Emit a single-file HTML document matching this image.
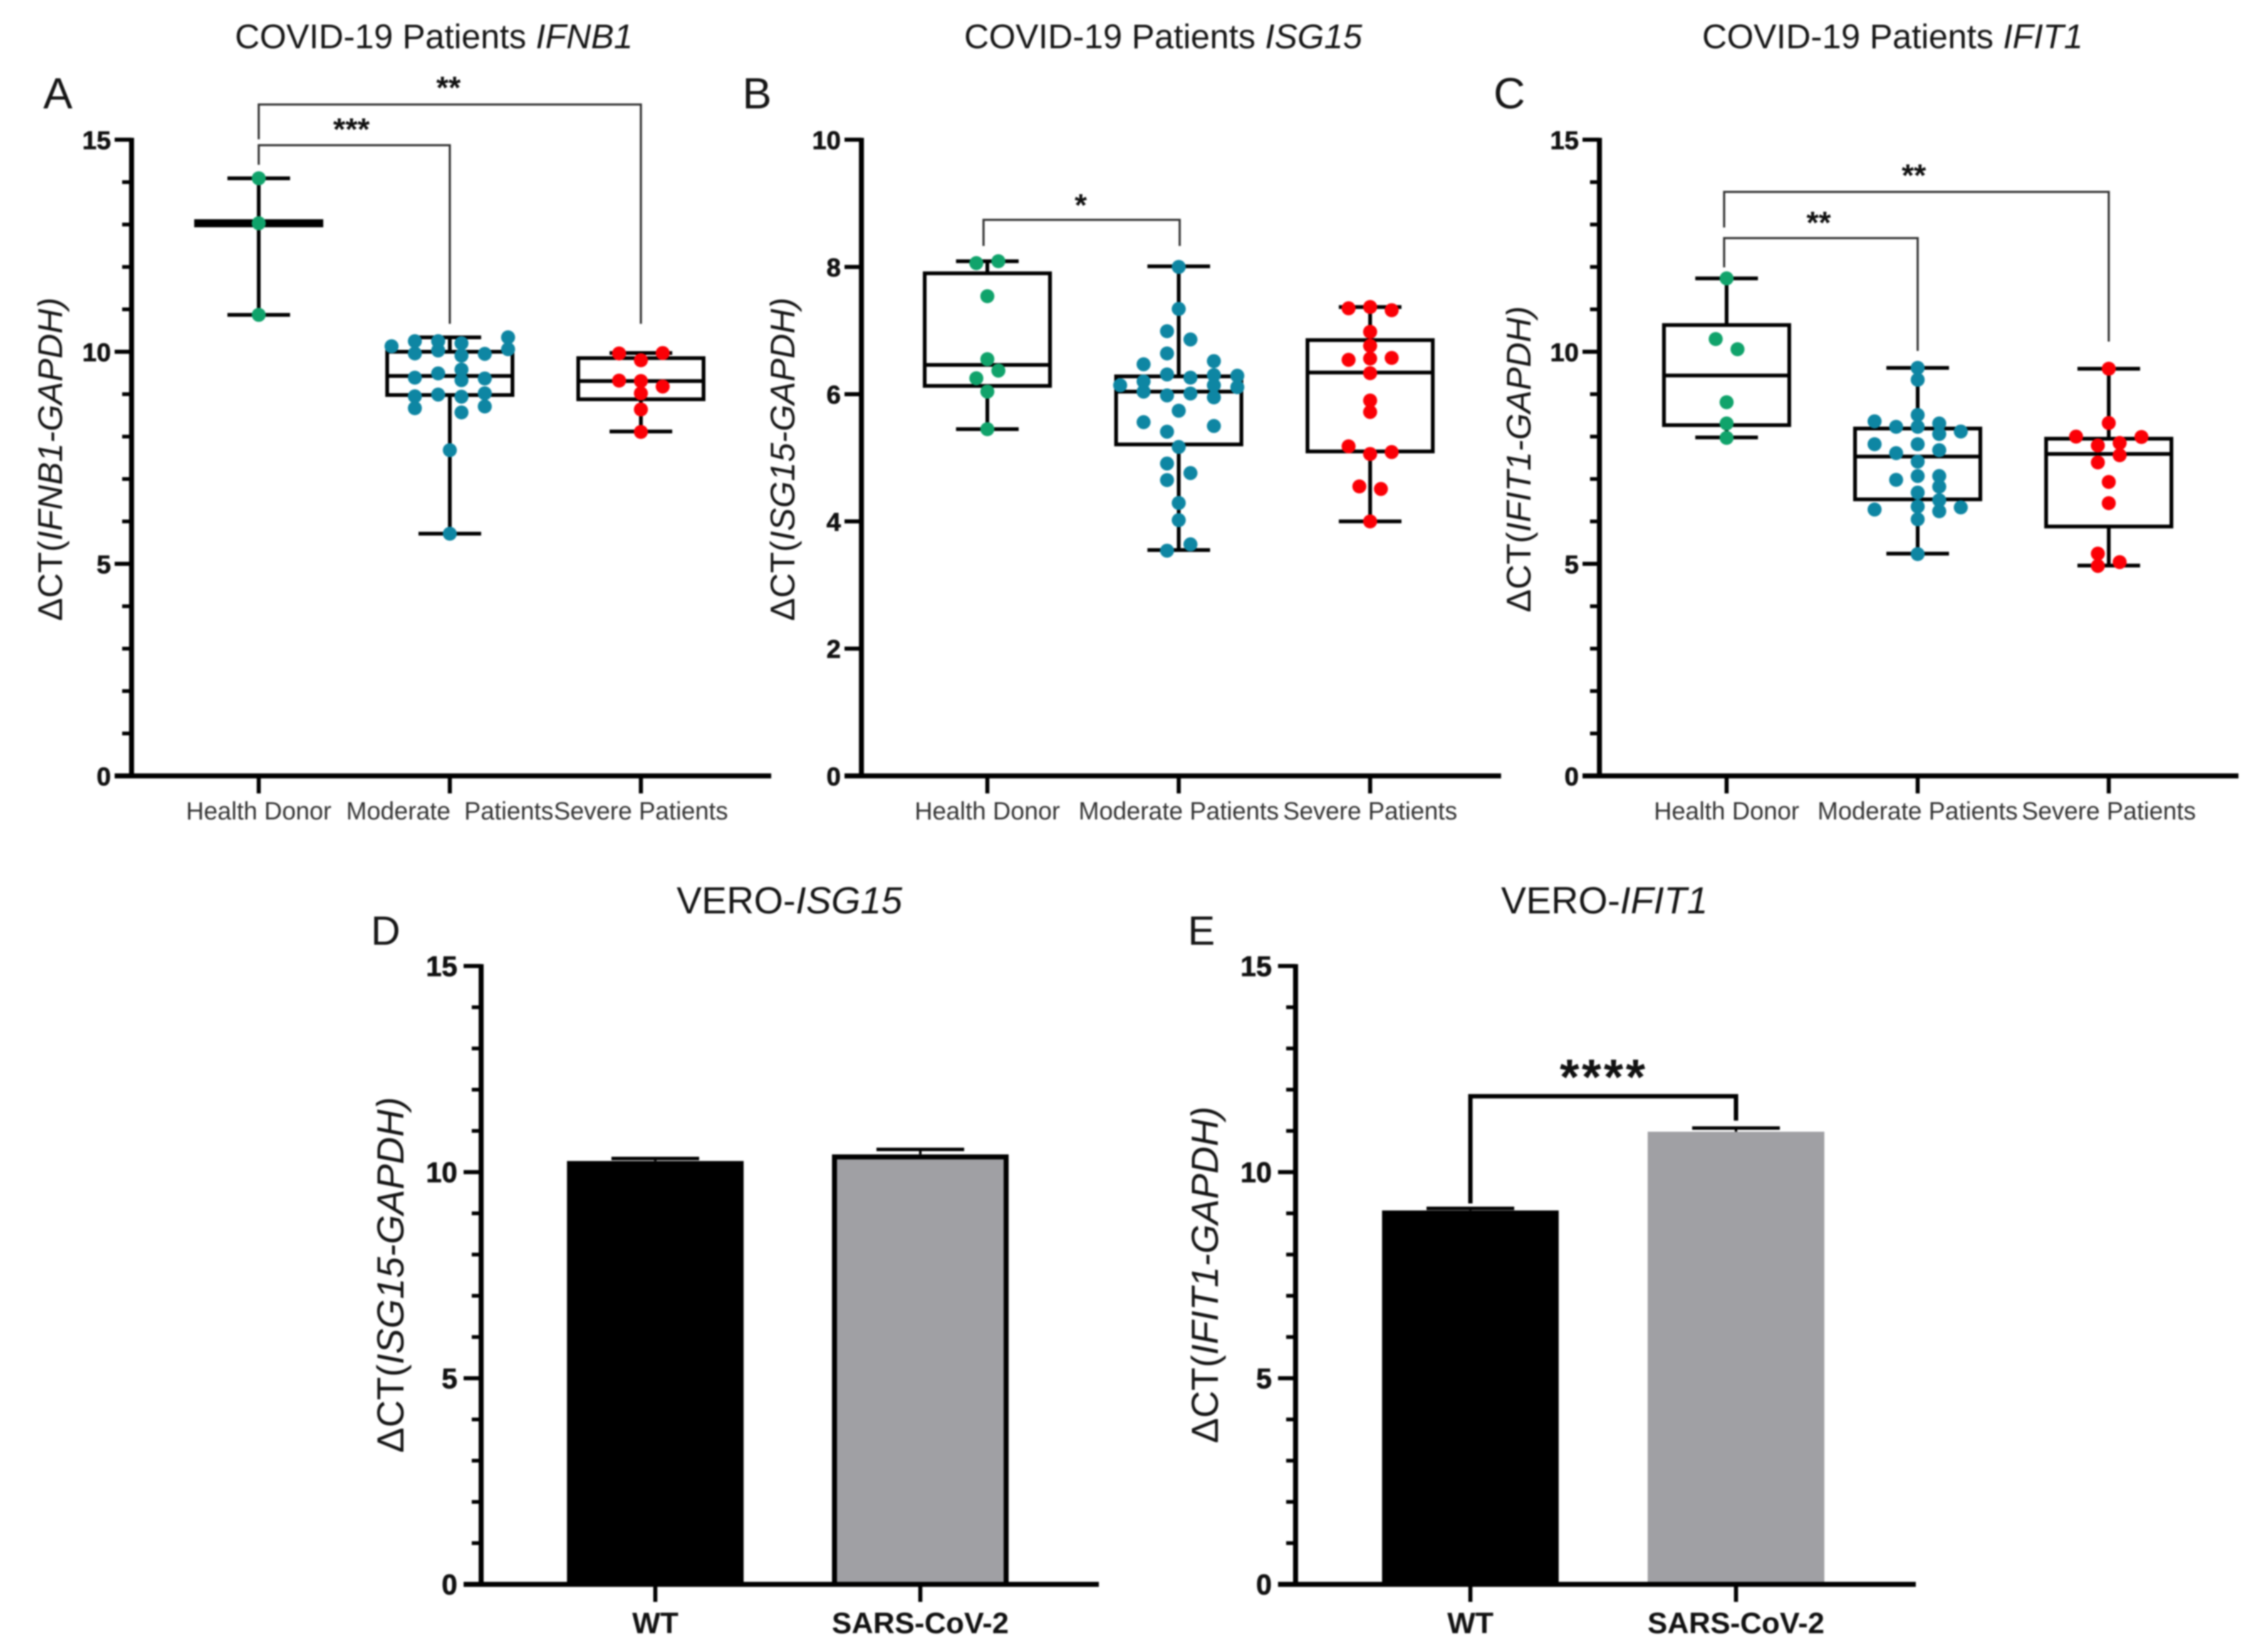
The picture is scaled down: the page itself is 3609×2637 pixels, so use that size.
<!DOCTYPE html>
<html lang="en">
<head>
<meta charset="utf-8">
<title>Interferon gene expression in COVID-19 patients and VERO cells</title>
<style>
html,body{margin:0;padding:0;background:#fff;}
svg{display:block;filter:blur(1.2px);font-family:"Liberation Sans",Arial,sans-serif;}
.title{font-size:54.7px;fill:#151515;}
.title-low{font-size:60px;fill:#151515;}
.letter{font-size:70px;fill:#151515;}
.ytitle{font-size:55px;fill:#151515;}
.ytitle-low{font-size:60.5px;fill:#151515;}
i,.it{font-style:italic;}
</style>
</head>
<body>
<svg id="figure" width="3609" height="2637" viewBox="0 0 3609 2637">
  <rect x="0" y="0" width="3609" height="2637" fill="#fff"/>
  <text class="title" x="375" y="77">COVID-19 Patients <tspan class="it">IFNB1</tspan></text>
  <text class="title" x="1539" y="77">COVID-19 Patients <tspan class="it">ISG15</tspan></text>
  <text class="title" x="2717" y="77">COVID-19 Patients <tspan class="it">IFIT1</tspan></text>
  <text class="title-low" x="1080" y="1458">VERO-<tspan class="it">ISG15</tspan></text>
  <text class="title-low" x="2396" y="1458">VERO-<tspan class="it">IFIT1</tspan></text>
  <text class="letter" x="69" y="173">A</text>
  <text class="letter" x="1185" y="173">B</text>
  <text class="letter" x="2384" y="173">C</text>
  <text class="letter" style="font-size:65px" x="592" y="1508">D</text>
  <text class="letter" style="font-size:65px" x="1896" y="1508">E</text>
  <text class="ytitle" text-anchor="middle" transform="translate(99 733) rotate(-90)">&#916;CT(<tspan class="it">IFNB1-GAPDH)</tspan></text>
  <text class="ytitle" text-anchor="middle" transform="translate(1268 733) rotate(-90)">&#916;CT(<tspan class="it">ISG15-GAPDH)</tspan></text>
  <text class="ytitle" text-anchor="middle" transform="translate(2443 733) rotate(-90)">&#916;CT(<tspan class="it">IFIT1-GAPDH)</tspan></text>
  <text class="ytitle-low" text-anchor="middle" transform="translate(644 2035) rotate(-90)">&#916;CT(<tspan class="it">ISG15-GAPDH)</tspan></text>
  <text class="ytitle-low" text-anchor="middle" transform="translate(1944 2035) rotate(-90)">&#916;CT(<tspan class="it">IFIT1-GAPDH)</tspan></text>
</svg>
<script>
/* ---------- Panel A data ---------- */
const panelACategories = ["Health Donor", "Moderate\u00A0\u00A0Patients", "Severe Patients"];
const panelAYTicks = [0, 5, 10, 15];
const panelAWhiskerLow = [10.87, 5.71, 8.12];
const panelAQ1 = [12.98, 8.98, 8.88];
const panelAMedian = [13.03, 9.43, 9.31];
const panelAQ3 = [13.08, 10.0, 9.85];
const panelAWhiskerHigh = [14.09, 10.34, 9.97];
const panelAHealthValues = [14.09, 13.03, 10.87];
const panelAHealthSwarm = [0, 0, 0];
const panelAModerateValues = [10.13, 10.25, 9.96, 9.39, 8.95, 8.67, 10.25, 10.03, 9.49, 8.99, 7.68, 5.71, 10.2, 9.91, 9.58, 9.33, 8.94, 8.57, 9.95, 9.37, 9.02, 8.71, 10.34, 10.06];
const panelAModerateSwarm = [-5, -3, -3, -3, -3, -3, -1, -1, -1, -1, 0, 0, 1, 1, 1, 1, 1, 1, 3, 3, 3, 3, 5, 5];
const panelASevereValues = [9.96, 9.97, 9.8, 9.32, 9.31, 9.18, 9.02, 8.64, 8.11];
const panelASevereSwarm = [-2, 2, 0, -2, 0, 2, 0, 0, 0];

/* ---------- Panel B data ---------- */
const panelBCategories = ["Health Donor", "Moderate Patients", "Severe Patients"];
const panelBYTicks = [0, 2, 4, 6, 8, 10];
const panelBWhiskerLow = [5.45, 3.55, 4.0];
const panelBQ1 = [6.13, 5.21, 5.1];
const panelBMedian = [6.46, 6.04, 6.34];
const panelBQ3 = [7.9, 6.28, 6.85];
const panelBWhiskerHigh = [8.09, 8.01, 7.37];
const panelBHealthValues = [8.06, 8.09, 7.54, 6.55, 6.37, 6.25, 6.04, 5.45];
const panelBHealthSwarm = [-1, 1, 0, 0, 1, -1, 0, 0];
const panelBModerateValues = [8.0, 7.34, 6.99, 6.86, 6.64, 6.47, 6.52, 6.31, 6.26, 6.3, 6.29, 6.14, 6.2, 6.14, 6.11, 6.04, 5.98, 6.01, 5.95, 5.74, 5.56, 5.5, 5.41, 5.17, 4.91, 4.76, 4.65, 4.29, 4.02, 3.64, 3.54];
const panelBModerateSwarm = [0, 0, -1, 1, -1, -3, 3, -1, 1, 3, 5, -5, -3, 3, 5, -3, -1, 1, 3, 0, -3, 3, -1, 0, -1, 1, -1, 0, 0, 1, -1];
const panelBSevereValues = [7.35, 7.37, 7.32, 6.98, 6.76, 6.54, 6.56, 6.57, 6.33, 5.9, 5.72, 5.18, 5.06, 5.09, 4.55, 4.51, 4.0];
const panelBSevereSwarm = [-2, 0, 2, 0, 0, -2, 0, 2, 0, 0, 0, -2, 0, 2, -1, 1, 0];

/* ---------- Panel C data ---------- */
const panelCCategories = ["Health Donor", "Moderate Patients", "Severe Patients"];
const panelCYTicks = [0, 5, 10, 15];
const panelCWhiskerLow = [7.98, 5.24, 4.96];
const panelCQ1 = [8.27, 6.52, 5.88];
const panelCMedian = [9.44, 7.53, 7.59];
const panelCQ3 = [10.63, 8.19, 7.95];
const panelCWhiskerHigh = [11.73, 9.62, 9.6];
const panelCHealthValues = [11.73, 10.3, 10.06, 8.81, 8.31, 7.97];
const panelCHealthSwarm = [0, -1, 1, 0, 0, 0];
const panelCModerateValues = [9.62, 9.34, 8.51, 8.36, 8.23, 8.23, 8.31, 8.06, 8.12, 7.82, 7.82, 7.68, 7.61, 7.41, 7.07, 7.07, 6.98, 6.82, 6.68, 6.5, 6.35, 6.28, 6.24, 6.33, 6.05, 5.23];
const panelCModerateSwarm = [0, 0, 0, -4, -2, 0, 2, 2, 4, -4, 0, 2, -2, 0, 0, 2, -2, 2, 0, 2, 0, -4, 2, 4, 0, 0];
const panelCSevereValues = [9.6, 8.32, 8.0, 7.99, 7.79, 7.85, 7.56, 7.39, 6.93, 6.43, 5.24, 5.04, 4.95];
const panelCSevereSwarm = [0, 0, -3, 3, -1, 1, 1, -1, 0, 0, -1, 1, -1];

/* ---------- Panel D data ---------- */
const panelDCategories = ["WT", "SARS-CoV-2"];
const panelDYTicks = [0, 5, 10, 15];
const panelDMeans = [10.27, 10.43];
const panelDErrors = [0.06, 0.12];

/* ---------- Panel E data ---------- */
const panelECategories = ["WT", "SARS-CoV-2"];
const panelEYTicks = [0, 5, 10, 15];
const panelEMeans = [9.07, 10.98];
const panelEErrors = [0.05, 0.09];

const SVG_NS = "http://www.w3.org/2000/svg";
const figure = document.getElementById("figure");

function shape(parent, tag, name, attrs) {
  const el = document.createElementNS(SVG_NS, tag);
  
  
  for (const key in attrs) el.setAttribute(key, attrs[key]);
  parent.appendChild(el);
  return el;
}
function line(parent, name, x1, y1, x2, y2, width, color) {
  return shape(parent, "line", name, {x1: x1, y1: y1, x2: x2, y2: y2, stroke: color || "#000", "stroke-width": width});
}
function label(parent, name, text, x, y, size, bold, anchor, color) {
  const el = shape(parent, "text", name, {x: x, y: y, "font-size": size, "font-weight": bold ? "bold" : "normal", "text-anchor": anchor, fill: color || "#111"});
  el.textContent = text;
  return el;
}

function makeAxes(cfg) {
  const g = shape(figure, "g", cfg.name, {});
  const yScale = v => cfg.y0 - (v / cfg.yMax) * (cfg.y0 - cfg.yTop);
  const xScale = i => cfg.x0 + i * cfg.xStep;
  const scales = {g: g, y: yScale, x: xScale};
  scales.drawAxes = function () {
    const lineW = cfg.axisWidth;
    line(g, "y-axis-line", cfg.axisX, cfg.yTop - 3, cfg.axisX, cfg.y0 + 3, lineW);
    line(g, "x-axis-line", cfg.axisX - cfg.majorLen, cfg.y0, cfg.xEnd, cfg.y0, lineW);
    if (cfg.minorStep) {
      for (let v = 0; v <= cfg.yMax; v += cfg.minorStep) {
        if (cfg.yTicks.indexOf(v) < 0) {
          line(g, "y-minor-tick", cfg.axisX - cfg.minorLen, yScale(v), cfg.axisX, yScale(v), 6);
        }
      }
    }
    cfg.yTicks.forEach(function (v) {
      line(g, "y-tick", cfg.axisX - cfg.majorLen, yScale(v), cfg.axisX, yScale(v), 6.5);
      const t = label(g, "y-tick-label", String(v), cfg.axisX - cfg.majorLen - cfg.labelGap, yScale(v) + cfg.tickFont * 0.36, cfg.tickFont, true, "end");
      t.setAttribute("stroke", "#111");
      t.setAttribute("stroke-width", "0.8");
    });
    cfg.categories.forEach(function (c, i) {
      line(g, "x-tick", xScale(i), cfg.y0, xScale(i), cfg.y0 + 28, 6.5);
      label(g, "x-category-label", c, xScale(i), cfg.catY, cfg.catFont, cfg.catBold, "middle", cfg.catBold ? "#111" : "#333");
    });
  };
  return scales;
}

function drawBox(ax, i, low, q1, med, q3, high) {
  const cx = ax.x(i);
  const g = shape(ax.g, "g", "box-plot", {});
  line(g, "whisker", cx, ax.y(high), cx, ax.y(q3), 6);
  line(g, "whisker", cx, ax.y(q1), cx, ax.y(low), 6);
  line(g, "whisker-cap-high", cx - 50, ax.y(high), cx + 50, ax.y(high), 6);
  line(g, "whisker-cap-low", cx - 50, ax.y(low), cx + 50, ax.y(low), 6);
  shape(g, "rect", "box", {x: cx - 100, y: ax.y(q3), width: 200, height: ax.y(q1) - ax.y(q3), fill: "none", stroke: "#000", "stroke-width": 6});
  line(g, "median-line", cx - 100, ax.y(med), cx + 100, ax.y(med), 6);
}
function drawPoints(ax, i, values, swarm, step, color) {
  const g = shape(ax.g, "g", "data-points", {});
  values.forEach(function (v, k) {
    shape(g, "circle", "data-point", {cx: ax.x(i) + swarm[k] * step, cy: ax.y(v), r: 11.2, fill: color});
  });
}
function drawBoxGroup(ax, low, q1, med, q3, high) {
  low.forEach(function (_, i) { drawBox(ax, i, low[i], q1[i], med[i], q3[i], high[i]); });
}
function drawBracket(ax, a, b, top, legA, legB, stars, starPos, starVal, width, color, starSize, spacing) {
  const g = shape(ax.g, "g", "significance-bracket", {});
  const xa = ax.x(a), xb = ax.x(b);
  const d = "M" + xa + " " + ax.y(legA) + "V" + ax.y(top) + "H" + xb + "V" + ax.y(legB);
  shape(g, "path", "bracket-line", {d: d, fill: "none", stroke: color, "stroke-width": width});
  const st = label(g, "significance-stars", stars, ax.x(starPos), ax.y(starVal) + starSize * 0.52 - 4, starSize, true, "middle", "#111");
  if (spacing) st.setAttribute("letter-spacing", spacing);
}

const GREEN = "#10a36b", TEAL = "#0e86a3", RED = "#fb0006";

/* Panel A */
const axA = makeAxes({name: "panel-a-chart", x0: 413, xStep: 305, axisX: 210, xEnd: 1231, y0: 1238.5, yTop: 223, yMax: 15, yTicks: panelAYTicks, minorStep: 1, majorLen: 27, minorLen: 15, labelGap: 6, tickFont: 41, categories: panelACategories, catY: 1308, catFont: 39.4, axisWidth: 8});
drawBoxGroup(axA, panelAWhiskerLow, panelAQ1, panelAMedian, panelAQ3, panelAWhiskerHigh);
drawPoints(axA, 0, panelAHealthValues, panelAHealthSwarm, 18, GREEN);
drawPoints(axA, 1, panelAModerateValues, panelAModerateSwarm, 18.6, TEAL);
drawPoints(axA, 2, panelASevereValues, panelASevereSwarm, 17.4, RED);
drawBracket(axA, 0, 2, 15.83, 15.01, 10.66, "**", 0.993, 16.3, 3.4, "#333", 50);
drawBracket(axA, 0, 1, 14.87, 14.41, 10.66, "***", 0.485, 15.32, 3.4, "#333", 50);
axA.drawAxes();

/* Panel B */
const axB = makeAxes({name: "panel-b-chart", x0: 1576, xStep: 305.5, axisX: 1375, xEnd: 2396, y0: 1238.5, yTop: 223, yMax: 10, yTicks: panelBYTicks, minorStep: 0, majorLen: 27, minorLen: 15, labelGap: 6, tickFont: 41, categories: panelBCategories, catY: 1308, catFont: 39.4, axisWidth: 8});
drawBoxGroup(axB, panelBWhiskerLow, panelBQ1, panelBMedian, panelBQ3, panelBWhiskerHigh);
drawPoints(axB, 0, panelBHealthValues, panelBHealthSwarm, 17.6, GREEN);
drawPoints(axB, 1, panelBModerateValues, panelBModerateSwarm, 18.7, TEAL);
drawPoints(axB, 2, panelBSevereValues, panelBSevereSwarm, 17.2, RED);
drawBracket(axB, -0.02, 1.005, 8.74, 8.33, 8.33, "*", 0.488, 9.02, 3.4, "#333", 50);
axB.drawAxes();

/* Panel C */
const axC = makeAxes({name: "panel-c-chart", x0: 2756, xStep: 305, axisX: 2553, xEnd: 3573, y0: 1238.5, yTop: 223, yMax: 15, yTicks: panelCYTicks, minorStep: 1, majorLen: 27, minorLen: 15, labelGap: 6, tickFont: 41, categories: panelCCategories, catY: 1308, catFont: 39.4, axisWidth: 8});
drawBoxGroup(axC, panelCWhiskerLow, panelCQ1, panelCMedian, panelCQ3, panelCWhiskerHigh);
drawPoints(axC, 0, panelCHealthValues, panelCHealthSwarm, 17.4, GREEN);
drawPoints(axC, 1, panelCModerateValues, panelCModerateSwarm, 17.2, TEAL);
drawPoints(axC, 2, panelCSevereValues, panelCSevereSwarm, 17.4, RED);
drawBracket(axC, -0.013, 2, 13.77, 12.93, 10.24, "**", 0.98, 14.23, 3.4, "#333", 50);
drawBracket(axC, -0.013, 1, 12.68, 11.99, 10.02, "**", 0.482, 13.12, 3.4, "#333", 50);
axC.drawAxes();

/* Bar panels */
function drawBars(ax, means, errors, colors, borders) {
  means.forEach(function (m, i) {
    const cx = ax.x(i);
    const g = shape(ax.g, "g", "bar-group", {});
    const inset = borders[i] / 2;
    shape(g, "rect", "bar", {x: cx - 141 + inset, y: ax.y(m) + inset, width: 282 - 2 * inset, height: ax.y(0) - ax.y(m) - inset, fill: colors[i], stroke: borders[i] ? "#000" : "none", "stroke-width": borders[i]});
    line(g, "error-bar", cx, ax.y(m), cx, ax.y(m + errors[i]), 4, "#000");
    line(g, "error-cap", cx - 70, ax.y(m + errors[i]), cx + 70, ax.y(m + errors[i]), 5.5, "#000");
  });
}

const axD = makeAxes({name: "panel-d-chart", x0: 1046, xStep: 423, axisX: 768, xEnd: 1754, y0: 2529, yTop: 1542, yMax: 15, yTicks: panelDYTicks, minorStep: 1, majorLen: 28, minorLen: 15, labelGap: 10, tickFont: 45, categories: panelDCategories, catY: 2607, catFont: 47.5, catBold: true, axisWidth: 8});
drawBars(axD, panelDMeans, panelDErrors, ["#000", "#a0a0a4"], [0, 8]);
axD.drawAxes();

const axE = makeAxes({name: "panel-e-chart", x0: 2347, xStep: 424, axisX: 2068, xEnd: 3058, y0: 2529, yTop: 1542, yMax: 15, yTicks: panelEYTicks, minorStep: 1, majorLen: 28, minorLen: 15, labelGap: 10, tickFont: 45, categories: panelECategories, catY: 2607, catFont: 47.5, catBold: true, axisWidth: 8});
drawBars(axE, panelEMeans, panelEErrors, ["#000", "#a0a0a4"], [0, 0]);
drawBracket(axE, 0, 1, 11.84, 9.24, 11.25, "****", 0.502, 12.46, 7, "#000", 80, 4);
axE.drawAxes();
</script>
</body>
</html>
